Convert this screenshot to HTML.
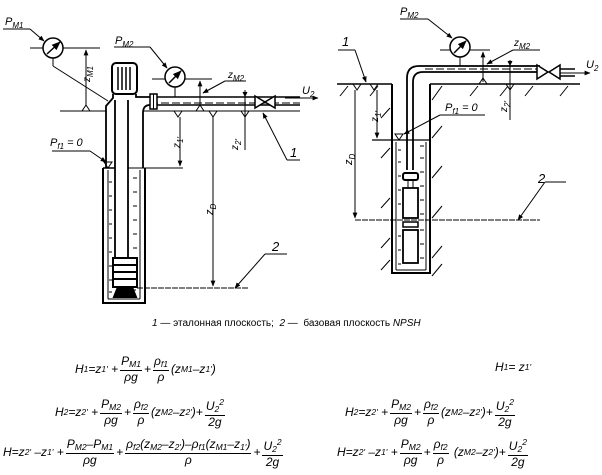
<!DOCTYPE html>
<html><head><meta charset="utf-8">
<style>
html,body{margin:0;padding:0;background:#fff;}
body{width:602px;height:475px;position:relative;overflow:hidden;font-family:"Liberation Sans",sans-serif;}
svg{position:absolute;left:0;top:0;}
.f{position:absolute;display:flex;align-items:center;font-size:12px;font-style:italic;white-space:nowrap;color:#000;}
.fr{display:inline-flex;flex-direction:column;align-items:center;margin:0 2px;line-height:12px;}
.fr .n{border-bottom:0.8px solid #000;padding:0 1px;}
sub{font-size:8.5px;vertical-align:-2px;}
sup{font-size:8.5px;}
.cap{position:absolute;left:152px;top:318px;font-size:10px;}
</style></head><body>
<svg width="602" height="475" viewBox="0 0 602 475" fill="none" stroke="#000" stroke-width="1">
<defs>
<marker id="a" viewBox="0 0 10 10" refX="9" refY="5" markerWidth="6" markerHeight="6" orient="auto-start-reverse"><path d="M0,1 L10,5 L0,9 z" fill="#000" stroke="none"/></marker>
</defs>
<g font-family="Liberation Sans" font-style="italic" fill="#000" stroke="none" font-size="11">
<text x="5" y="25">P<tspan font-size="8" dy="3">M1</tspan></text>
<text x="115" y="44">P<tspan font-size="8" dy="3">M2</tspan></text>
<text x="228" y="78" font-size="10">z<tspan font-size="8" dy="3">M2</tspan></text>
<text x="50" y="146">P<tspan font-size="8" dy="3">f1</tspan><tspan dy="-3"> = 0</tspan></text>
<text x="290" y="157" font-size="13">1</text>
<text x="272" y="251" font-size="13">2</text>
<text transform="translate(90,82) rotate(-90)" font-size="10">z<tspan font-size="8" dy="3">M1</tspan></text>
<text transform="translate(180,148) rotate(-90)" font-size="10">z<tspan font-size="8" dy="3">1'</tspan></text>
<text transform="translate(238,150) rotate(-90)" font-size="10">z<tspan font-size="8" dy="3">2'</tspan></text>
<text transform="translate(213,215) rotate(-90)" font-size="11">z<tspan font-size="8" dy="3">D</tspan></text>
<text x="302" y="94">U<tspan font-size="8" dy="3">2</tspan></text>
<text x="400" y="15">P<tspan font-size="8" dy="3">M2</tspan></text>
<text x="514" y="46" font-size="10">z<tspan font-size="8" dy="3">M2</tspan></text>
<text x="445" y="111">P<tspan font-size="8" dy="3">f1</tspan><tspan dy="-3"> = 0</tspan></text>
<text x="342" y="46" font-size="13">1</text>
<text x="538" y="183" font-size="13">2</text>
<text x="586" y="68">U<tspan font-size="8" dy="3">2</tspan></text>
<text transform="translate(378,122) rotate(-90)" font-size="10">z<tspan font-size="8" dy="3">1'</tspan></text>
<text transform="translate(507,112) rotate(-90)" font-size="10">z<tspan font-size="8" dy="3">2'</tspan></text>
<text transform="translate(352,165) rotate(-90)" font-size="11">z<tspan font-size="8" dy="3">D</tspan></text>
</g>

<line x1="3" y1="29" x2="30" y2="29"/>
<line x1="30" y1="29" x2="44" y2="41" marker-end="url(#a)"/>
<line x1="30" y1="48" x2="100" y2="48"/>
<circle cx="53" cy="48" r="10" fill="#fff" stroke-width="1.5"/>
<line x1="47" y1="54" x2="60" y2="42" stroke-width="1.5" marker-end="url(#a)"/>
<line x1="53" y1="58" x2="53" y2="66"/>
<line x1="53" y1="66" x2="108" y2="101"/>
<line x1="86" y1="50" x2="86" y2="106" marker-start="url(#a)"/>
<line x1="60" y1="111" x2="106" y2="111"/>
<path d="M82,111 L86,105 L90,111"/>
<rect x="112" y="63" width="25" height="31" rx="4" stroke-width="2" fill="#fff"/>
<line x1="118" y1="67" x2="118" y2="90" stroke-width="1.5"/>
<line x1="122" y1="67" x2="122" y2="90" stroke-width="1.5"/>
<line x1="126" y1="67" x2="126" y2="90" stroke-width="1.5"/>
<line x1="130" y1="67" x2="130" y2="90" stroke-width="1.5"/>
<path d="M113,94 L113,98 L106,106 L106,168" stroke-width="1.8"/>
<path d="M136,94 L136,97 L150,97" stroke-width="1.8"/>
<path d="M143,168 L143,113 Q143,105 150,105" stroke-width="1.8"/>
<line x1="115" y1="100" x2="115" y2="258" stroke-width="1.8"/>
<line x1="128" y1="100" x2="128" y2="258" stroke-width="1.8"/>
<path d="M103,168 L103,303 L145,303 L145,168" stroke-width="2"/>
<line x1="103" y1="168" x2="115" y2="168" stroke-width="1.5"/>
<line x1="128" y1="168" x2="183" y2="168" stroke-width="1"/>
<line x1="108" y1="170" x2="108" y2="299"/>
<line x1="140" y1="170" x2="140" y2="299"/>
<line x1="108" y1="299" x2="140" y2="299"/>
<g stroke-width="1">
<path d="M109,182h3M109,196h3M109,210h3M109,224h3M109,238h3M109,252h3M109,266h3M109,280h3M109,292h3"/>
<path d="M133,178h4M133,192h4M133,206h4M133,220h4M133,234h4M133,248h4M133,262h3M133,276h3M133,290h3"/>
</g>
<path d="M104,162 L108,168 L112,162 Z" fill="none"/>
<rect x="113" y="258" width="24" height="29" stroke-width="2" fill="#fff"/>
<line x1="113" y1="265" x2="137" y2="265" stroke-width="2"/>
<line x1="113" y1="272" x2="137" y2="272" stroke-width="2"/>
<line x1="113" y1="279" x2="137" y2="279" stroke-width="2"/>
<path d="M118,287 L114,297 L136,297 L132,287" stroke-width="2" fill="#000"/>
<line x1="137" y1="288" x2="248" y2="288" stroke-dasharray="6,1"/>
<line x1="150" y1="97" x2="300" y2="97" stroke-width="1.5"/>
<line x1="150" y1="103" x2="300" y2="103" stroke-dasharray="8,3"/>
<line x1="150" y1="105" x2="300" y2="105" stroke-width="1.5"/>
<line x1="143" y1="111" x2="300" y2="111"/>
<rect x="150" y="94" width="7" height="15" fill="#fff" stroke-width="1.5"/>
<line x1="153.5" y1="94" x2="153.5" y2="109"/>
<path d="M255,96 L265,102 L255,108 Z M275,96 L265,102 L275,108 Z" fill="#fff" stroke-width="1.5"/>
<line x1="285" y1="98" x2="318" y2="98" marker-end="url(#a)"/>
<line x1="114" y1="47" x2="150" y2="47"/>
<line x1="150" y1="47" x2="167" y2="68" marker-end="url(#a)"/>
<line x1="152" y1="79" x2="212" y2="79"/>
<circle cx="175" cy="77" r="10" fill="#fff" stroke-width="1.5"/>
<line x1="169" y1="83" x2="181" y2="71" stroke-width="1.5" marker-end="url(#a)"/>
<line x1="175" y1="87" x2="175" y2="97"/>
<line x1="200" y1="81" x2="200" y2="106" marker-start="url(#a)"/>
<path d="M196,111 L200,105 L204,111"/>
<line x1="225" y1="81" x2="246" y2="81"/>
<line x1="225" y1="81" x2="203" y2="93" marker-end="url(#a)"/>
<path d="M174,111 L178,117 L182,111 M209,111 L213,117 L217,111 M241,111 L245,117 L249,111"/>
<line x1="180" y1="117" x2="180" y2="166" marker-end="url(#a)"/>
<line x1="213" y1="117" x2="213" y2="286" marker-end="url(#a)"/>
<line x1="245" y1="90" x2="245" y2="150"/>
<path d="M243,92 L245,96 L247,92" fill="#000"/>
<line x1="263" y1="113" x2="287" y2="160" marker-start="url(#a)"/>
<line x1="287" y1="160" x2="300" y2="160"/>
<line x1="235" y1="288" x2="265" y2="254" marker-start="url(#a)"/>
<line x1="265" y1="254" x2="287" y2="254"/>
<line x1="52" y1="151" x2="90" y2="151"/>
<line x1="90" y1="151" x2="106" y2="162" marker-end="url(#a)"/>

<line x1="337" y1="84" x2="392" y2="84" stroke-width="1.5"/>
<line x1="430" y1="84" x2="580" y2="84" stroke-width="1.5"/>
<path d="M392,84 L392,273 L430,273 L430,84" stroke-width="2"/>
<line x1="396" y1="142" x2="396" y2="270"/>
<line x1="426" y1="142" x2="426" y2="270"/>
<line x1="396" y1="270" x2="426" y2="270"/>
<line x1="372" y1="140" x2="430" y2="140" stroke-width="1.2"/>
<g stroke-width="1">
<path d="M398,150h3M398,162h3M398,176h3M398,190h3M398,204h3M398,220h3M398,236h3M398,250h3M398,264h3"/>
<path d="M420,146h4M420,158h4M420,172h4M420,186h4M420,200h4M420,214h4M420,230h4M420,244h4M420,258h4"/>
</g>
<g stroke-width="1">
<path d="M340,96 l8,-10 M370,96 l8,-10 M432,100 l10,-14 M470,96 l8,-10 M525,96 l8,-10 M560,96 l8,-10 M500,96 l8,-10"/>
<path d="M381,118 l9,-10 M381,158 l9,-10 M381,208 l9,-10 M381,248 l9,-10 M381,270 l9,-10"/>
<path d="M432,138 l10,-12 M432,178 l10,-12 M432,218 l10,-12 M432,258 l10,-12 M432,276 l10,-12"/>
</g>
<path d="M407,170 L407,78 Q407,66 419,66 L540,66" stroke-width="1.8"/>
<path d="M413,170 L413,82 Q413,72 423,72 L540,72" stroke-width="1.8"/>
<line x1="425" y1="69" x2="540" y2="69" stroke-dasharray="8,3"/>
<path d="M537,65 L548,72 L537,79 Z M560,65 L549,72 L560,79 Z" fill="#fff" stroke-width="1.5"/>
<line x1="560" y1="69" x2="575" y2="69" stroke-width="1.5"/>
<line x1="560" y1="76" x2="575" y2="76" stroke-width="1.5"/>
<line x1="560" y1="73" x2="590" y2="73" marker-end="url(#a)"/>
<rect x="403" y="173" width="15" height="7" rx="2" stroke-width="2" fill="#fff"/>
<line x1="408" y1="180" x2="408" y2="188"/><line x1="413" y1="180" x2="413" y2="188"/>
<rect x="403" y="188" width="15" height="30" stroke-width="1.8" fill="#fff"/>
<rect x="403" y="222" width="15" height="5" stroke-width="1.5" fill="#fff"/>
<rect x="403" y="230" width="15" height="33" stroke-width="1.8" fill="#fff"/>
<line x1="355" y1="220" x2="540" y2="220" stroke-dasharray="6,1"/>
<line x1="518" y1="220" x2="545" y2="182" marker-start="url(#a)"/>
<line x1="545" y1="182" x2="566" y2="182"/>
<line x1="400" y1="19" x2="428" y2="19"/>
<line x1="428" y1="19" x2="452" y2="38" marker-end="url(#a)"/>
<line x1="440" y1="50" x2="490" y2="50"/>
<circle cx="460" cy="47" r="10" fill="#fff" stroke-width="1.5"/>
<line x1="454" y1="53" x2="466" y2="41" stroke-width="1.5" marker-end="url(#a)"/>
<line x1="460" y1="57" x2="460" y2="66"/>
<line x1="483" y1="52" x2="483" y2="82" marker-start="url(#a)"/>
<path d="M479,84 L483,78 L487,84"/>
<line x1="513" y1="50" x2="540" y2="50"/>
<line x1="513" y1="50" x2="487" y2="64" marker-end="url(#a)"/>
<line x1="510" y1="60" x2="510" y2="120"/>
<path d="M508,61 L510,65 L512,61" fill="#000"/>
<path d="M506,84 L510,90 L514,84"/>
<path d="M353,84 L357,90 L361,84 M370,84 L374,90 L378,84"/>
<line x1="355" y1="90" x2="355" y2="218" marker-end="url(#a)"/>
<line x1="377" y1="90" x2="377" y2="138" marker-end="url(#a)"/>
<line x1="338" y1="50" x2="355" y2="50"/>
<line x1="355" y1="50" x2="366" y2="82" marker-end="url(#a)"/>
<line x1="440" y1="115" x2="485" y2="115"/>
<line x1="440" y1="115" x2="404" y2="134" marker-end="url(#a)"/>
<path d="M395,134 L399,140 L403,134 Z"/>
</svg>

<div class="cap"><i>1</i> — эталонная плоскость; &nbsp;<i>2</i> — &nbsp;базовая плоскость <i>NPSH</i></div>

<div class="f" style="left:75px;top:355px;">H<sub>1</sub>=z<sub>1'</sub>&nbsp;+<span class="fr"><span class="n">P<sub>M1</sub></span><span>ρg</span></span>+<span class="fr"><span class="n">ρ<sub>f1</sub></span><span>ρ</span></span>(z<sub>M1</sub>–z<sub>1'</sub>)</div>
<div class="f" style="left:495px;top:360px;">H<sub>1</sub> = z<sub>1'</sub></div>

<div class="f" style="left:55px;top:396px;">H<sub>2</sub>=z<sub>2'</sub>&nbsp;+<span class="fr"><span class="n">P<sub>M2</sub></span><span>ρg</span></span>+<span class="fr"><span class="n">ρ<sub>f2</sub></span><span>ρ</span></span>(z<sub>M2</sub>–z<sub>2'</sub>)+<span class="fr"><span class="n">U<sub>2</sub><sup>2</sup></span><span>2g</span></span></div>
<div class="f" style="left:345px;top:396px;">H<sub>2</sub>=z<sub>2'</sub>&nbsp;+<span class="fr"><span class="n">P<sub>M2</sub></span><span>ρg</span></span>+<span class="fr"><span class="n">ρ<sub>f2</sub></span><span>ρ</span></span>(z<sub>M2</sub>–z<sub>2'</sub>)+<span class="fr"><span class="n">U<sub>2</sub><sup>2</sup></span><span>2g</span></span></div>

<div class="f" style="left:3px;top:436px;">H=z<sub>2'</sub>&nbsp;–z<sub>1'</sub>&nbsp;+<span class="fr"><span class="n">P<sub>M2</sub>–P<sub>M1</sub></span><span>ρg</span></span>+<span class="fr"><span class="n">ρ<sub>f2</sub>(z<sub>M2</sub>–z<sub>2'</sub>)–ρ<sub>f1</sub>(z<sub>M1</sub>–z<sub>1'</sub>)</span><span>ρ</span></span>+<span class="fr"><span class="n">U<sub>2</sub><sup>2</sup></span><span>2g</span></span></div>
<div class="f" style="left:337px;top:436px;">H=z<sub>2'</sub>&nbsp;–z<sub>1'</sub>&nbsp;+<span class="fr"><span class="n">P<sub>M2</sub></span><span>ρg</span></span>+<span class="fr"><span class="n">ρ<sub>f2</sub></span><span>ρ</span></span>&nbsp;(z<sub>M2</sub>–z<sub>2'</sub>)+<span class="fr"><span class="n">U<sub>2</sub><sup>2</sup></span><span>2g</span></span></div>
</body></html>
